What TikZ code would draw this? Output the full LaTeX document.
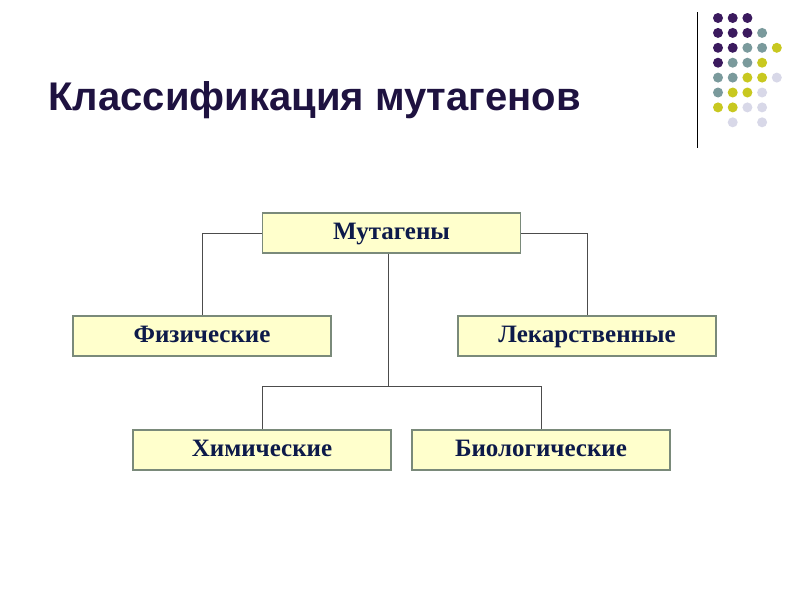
\documentclass[tikz,border=0pt]{standalone}
\usepackage{fontspec}
\setmainfont{Liberation Serif}
\newfontfamily\titlefont{Liberation Sans}
\definecolor{boxfill}{HTML}{FFFFCC}
\definecolor{boxline}{HTML}{7A8A7A}
\definecolor{txt}{HTML}{0D1A4A}
\definecolor{ttl}{HTML}{1E1240}
\definecolor{dk}{HTML}{3B1A5E}
\definecolor{tl}{HTML}{7A9A9C}
\definecolor{yl}{HTML}{C8C820}
\definecolor{lv}{HTML}{D8D8E8}
\begin{document}
\begin{tikzpicture}[x=1pt,y=-1pt,
  mbox/.style={draw=boxline,line width=1.6pt,fill=boxfill,minimum width=258pt,minimum height=40pt,inner sep=0pt,text height=17pt,text depth=4pt,font=\fontsize{25}{28}\selectfont\bfseries,text=txt},
  conn/.style={draw=black!70,line width=0.6pt}]
\useasboundingbox (0,0) rectangle (800,600);
\node[anchor=west,font=\titlefont\fontsize{40}{44}\selectfont\bfseries,text=ttl] (title) at (45,100) {Классификация мутагенов};
\draw[line width=1pt] (697,12) -- (697,148);
\foreach \c/\r/\col in {0/0/dk,1/0/dk,2/0/dk,
 0/1/dk,1/1/dk,2/1/dk,3/1/tl,
 0/2/dk,1/2/dk,2/2/tl,3/2/tl,4/2/yl,
 0/3/dk,1/3/tl,2/3/tl,3/3/yl,
 0/4/tl,1/4/tl,2/4/yl,3/4/yl,4/4/lv,
 0/5/tl,1/5/yl,2/5/yl,3/5/lv,
 0/6/yl,1/6/yl,2/6/lv,3/6/lv,
 1/7/lv,3/7/lv}
  \fill[\col] ({718+14.7*\c},{18+14.9*\r}) circle (5pt);
\node[mbox] (m) at (391.5,233) {Мутагены};
\node[mbox] (f) at (202,336) {Физические};
\node[mbox] (l) at (587,336) {Лекарственные};
\node[mbox] (h) at (262,450) {Химические};
\node[mbox] (b) at (541,450) {Биологические};
\coordinate (j) at (388,386);
\draw[conn] (m.west) -| (f.north);
\draw[conn] (m.east) -| (l.north);
\draw[conn] (m.south -| j) -- (j);
\draw[conn] (j) -| (h.north);
\draw[conn] (j) -| (b.north);
\end{tikzpicture}
\end{document}
